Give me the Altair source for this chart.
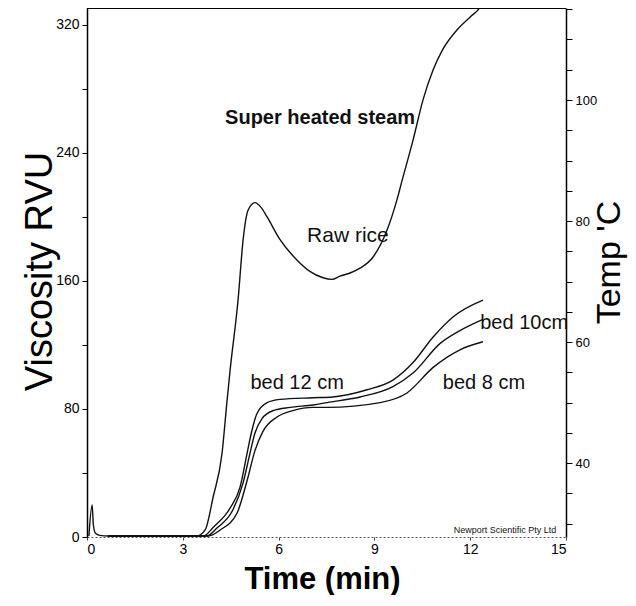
import altair as alt
import pandas as pd

# ---- data ----
raw_t = [0.06, 0.16, 0.20, 0.26, 0.40, 0.66, 3.44, 3.70, 3.95, 4.23, 4.38, 4.48, 4.73, 4.89, 5.04, 5.26,
         5.45, 5.64, 6.04, 6.58, 6.98, 7.39, 7.67, 7.92, 8.24, 8.55, 8.96, 9.40, 9.71, 9.87, 10.21,
         10.52, 10.84, 11.12, 11.59, 12.00, 12.31, 12.45]
raw_v = [0.6, 20, 7.5, 2.5, 1.0, 0.6, 0.6, 4.4, 25, 52.5, 84, 104, 148, 186, 204, 209,
         206, 200, 186, 173, 166, 162, 161, 163, 165, 168, 175, 192, 211, 223, 248,
         273, 292, 304, 317, 325, 331, 336]

bed12_t = [0.66, 3.65, 3.95, 4.48, 4.79, 5.01, 5.17, 5.32, 5.64, 6.04, 7.08, 7.70, 8.77, 9.58, 10.21, 10.84, 11.46, 12.40]
bed12_v = [0.6, 0.6, 6, 18, 31, 52, 67, 77, 84, 86, 87, 87.5, 92, 98, 109, 125, 137.5, 148]

bed10_t = [0.66, 3.75, 4.07, 4.57, 4.89, 5.10, 5.26, 5.48, 5.83, 6.36, 7.08, 7.52, 8.55, 9.58, 10.21, 11.06, 11.68, 12.40]
bed10_v = [0.6, 0.6, 5.6, 17, 34, 52, 65, 74, 79, 81, 82.5, 84, 87.5, 94, 102.5, 121, 129, 136]

bed8_t = [0.66, 3.80, 4.17, 4.70, 5.01, 5.26, 5.51, 5.95, 6.45, 7.08, 7.52, 9.18, 10.02, 10.84, 11.68, 12.40]
bed8_v = [0.6, 0.6, 4.4, 15, 35, 54, 66, 75, 79, 81, 81, 84, 90, 106, 117, 122]

label_text = ["Super heated steam", "Raw rice", "bed 12 cm", "bed 10cm", "bed 8 cm", "Newport Scientific Pty Ltd"]
label_t = [7.30, 8.17, 6.58, 13.69, 12.43, 13.09]
label_v = [262, 188, 96, 134, 96, 4.6]

x_ticks = [0, 3, 6, 9, 12, 15]
y_ticks = list(range(0, 321, 20))
temp_ticks = list(range(30, 116, 5))
temp_labelled = [40, 60, 80, 100]

# ---- tables ----
rows = []
for name, ts, vs in [("raw", raw_t, raw_v), ("bed12", bed12_t, bed12_v),
                     ("bed10", bed10_t, bed10_v), ("bed8", bed8_t, bed8_v)]:
    for t, v in zip(ts, vs):
        rows.append({"series": name, "t": t, "v": v})
df = pd.DataFrame(rows)
lab = pd.DataFrame({"label": label_text, "t": label_t, "v": label_v})
temp_df = pd.DataFrame({"temp": temp_labelled})

W, H = 479, 529
FONT = "Liberation Sans"

xs = alt.Scale(domain=[0, 15], nice=False, zero=False)
ys = alt.Scale(domain=[0, 330.6], nice=False, zero=False)

x_axis = alt.Axis(values=x_ticks, title="Time (min)", titleFontSize=31, titleFontWeight="bold",
                  titleFont=FONT, titleX=235, titleY=42, titleBaseline="middle",
                  labelFont=FONT, labelFontSize=14, labelColor="black", labelPadding=2,
                  tickSize=3, tickColor="#444", domainColor="#555", domainDash=[2, 2],
                  domainWidth=1.2, grid=False)
y_axis = alt.Axis(values=y_ticks, labelExpr="datum.value % 80 === 0 ? datum.label : ''",
                  title="Viscosity RVU", titleFontSize=38, titleFontWeight="normal", titleFont=FONT,
                  titleAngle=-90, titleX=-47, titleY=263, titleBaseline="middle", titleAlign="center",
                  labelFont=FONT, labelFontSize=14, labelColor="black", labelPadding=3,
                  tickSize=5, tickColor="black", domainColor="black", domainWidth=1.5, grid=False)

lines = alt.Chart(df).mark_line(color="#111", strokeWidth=1.4, interpolate="monotone", clip=True).encode(
    x=alt.X("t:Q", scale=xs, axis=x_axis),
    y=alt.Y("v:Q", scale=ys, axis=y_axis),
    detail="series:N",
    order="t:Q",
)

def label_layer(text, size, weight="normal"):
    return alt.Chart(lab).transform_filter(alt.datum.label == text).mark_text(
        font=FONT, fontSize=size, fontWeight=weight, color="#111", align="center", baseline="middle"
    ).encode(x=alt.X("t:Q", scale=xs), y=alt.Y("v:Q", scale=ys), text="label:N")

texts = [
    label_layer("Super heated steam", 20, "bold"),
    label_layer("Raw rice", 21),
    label_layer("bed 12 cm", 20),
    label_layer("bed 10cm", 20),
    label_layer("bed 8 cm", 20),
    label_layer("Newport Scientific Pty Ltd", 9),
]

top_border = alt.Chart(lab).mark_rule(color="black", strokeWidth=1.5).encode(
    x=alt.value(0), x2=alt.value(W), y=alt.value(0)
)

left_group = alt.layer(lines, top_border, *texts)

temp_axis = alt.Axis(orient="right", values=temp_ticks,
                     labelExpr="datum.value % 20 === 0 && datum.value >= 40 && datum.value <= 100 ? datum.label : ''",
                     title="Temp 'C", titleFontSize=34, titleFontWeight="normal", titleFont=FONT,
                     titleAngle=-90, titleX=43, titleY=254, titleBaseline="middle", titleAlign="center",
                     labelFont=FONT, labelFontSize=13, labelColor="black", labelPadding=3,
                     tickSize=6, tickColor="black", domainColor="black", domainWidth=1.5, grid=False)

temp_layer = alt.Chart(temp_df).mark_point(opacity=0).encode(
    y=alt.Y("temp:Q", scale=alt.Scale(domain=[27.8, 115.2], nice=False, zero=False), axis=temp_axis)
)

chart = alt.layer(left_group, temp_layer).resolve_scale(y="independent").properties(
    width=W, height=H,
    padding={"left": 79, "top": 0, "right": 62, "bottom": 58},
    autosize=alt.AutoSizeParams(type="none"),
    background="white",
).configure_view(stroke=None)

chart.save("out.html", embed_options={"renderer": "svg", "actions": False})
